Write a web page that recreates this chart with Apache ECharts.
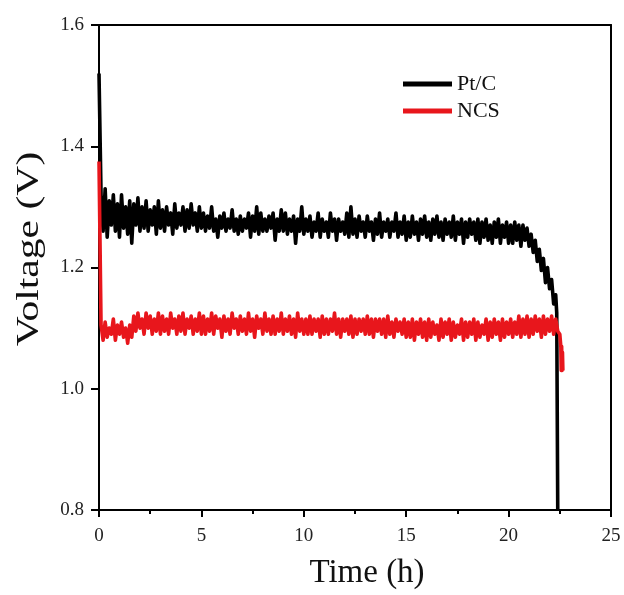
<!DOCTYPE html>
<html><head><meta charset="utf-8">
<script src="https://cdn.jsdelivr.net/npm/echarts@6/dist/echarts.min.js"></script>
<style>html,body{margin:0;padding:0;background:#fff}#c{width:624px;height:595px}</style>
</head><body><div id="c"></div>
<script>
// ---- data ----
const xTicks = [0, 5, 10, 15, 20, 25];
const yTicks = [0.8, 1.0, 1.2, 1.4, 1.6];
const seriesNames = ['Pt/C', 'NCS'];
const xTitle = 'Time (h)';
const yTitle = 'Voltage (V)';

// sampled time (h)
const timeGrid = [
0.1,0.2,0.3,0.4,0.5,0.6,0.7,0.8,0.9,1.0,
1.1,1.2,1.3,1.4,1.5,1.6,1.7,1.8,1.9,2.0,
2.1,2.2,2.3,2.4,2.5,2.6,2.7,2.8,2.9,3.0,
3.1,3.2,3.3,3.4,3.5,3.6,3.7,3.8,3.9,4.0,
4.1,4.2,4.3,4.4,4.5,4.6,4.7,4.8,4.9,5.0,
5.1,5.2,5.3,5.4,5.5,5.6,5.7,5.8,5.9,6.0,
6.1,6.2,6.3,6.4,6.5,6.6,6.7,6.8,6.9,7.0,
7.1,7.2,7.3,7.4,7.5,7.6,7.7,7.8,7.9,8.0,
8.1,8.2,8.3,8.4,8.5,8.6,8.7,8.8,8.9,9.0,
9.1,9.2,9.3,9.4,9.5,9.6,9.7,9.8,9.9,10.0,
10.1,10.2,10.3,10.4,10.5,10.6,10.7,10.8,10.9,11.0,
11.1,11.2,11.3,11.4,11.5,11.6,11.7,11.8,11.9,12.0,
12.1,12.2,12.3,12.4,12.5,12.6,12.7,12.8,12.9,13.0,
13.1,13.2,13.3,13.4,13.5,13.6,13.7,13.8,13.9,14.0,
14.1,14.2,14.3,14.4,14.5,14.6,14.7,14.8,14.9,15.0,
15.1,15.2,15.3,15.4,15.5,15.6,15.7,15.8,15.9,16.0,
16.1,16.2,16.3,16.4,16.5,16.6,16.7,16.8,16.9,17.0,
17.1,17.2,17.3,17.4,17.5,17.6,17.7,17.8,17.9,18.0,
18.1,18.2,18.3,18.4,18.5,18.6,18.7,18.8,18.9,19.0,
19.1,19.2,19.3,19.4,19.5,19.6,19.7,19.8,19.9,20.0,
20.1,20.2,20.3,20.4,20.5,20.6,20.7,20.8,20.9,21.0,
21.1,21.2,21.3,21.4,21.5,21.6,21.7,21.8,21.9,22.0,
22.1,22.2,22.3,22.4,22.5
];

// Pt/C voltage (V)
const ptcStartTime = [0];
const ptcStartV = [1.52];
const ptcV = [
1.32,1.26,1.33,1.25,1.31,1.27,1.32,1.26,1.305,1.25,
1.32,1.265,1.30,1.255,1.31,1.24,1.305,1.27,1.315,1.26,
1.30,1.265,1.31,1.26,1.295,1.27,1.30,1.255,1.31,1.265,
1.295,1.26,1.30,1.27,1.29,1.255,1.305,1.265,1.29,1.27,
1.30,1.26,1.295,1.265,1.305,1.27,1.29,1.26,1.30,1.265,
1.29,1.26,1.285,1.265,1.30,1.26,1.28,1.25,1.285,1.265,
1.29,1.26,1.28,1.265,1.295,1.26,1.28,1.255,1.285,1.26,
1.28,1.265,1.29,1.25,1.285,1.26,1.30,1.255,1.29,1.26,
1.28,1.26,1.285,1.265,1.29,1.245,1.28,1.26,1.295,1.26,
1.29,1.255,1.28,1.26,1.285,1.24,1.28,1.26,1.30,1.255,
1.28,1.26,1.285,1.25,1.275,1.26,1.29,1.25,1.28,1.26,
1.275,1.25,1.29,1.26,1.28,1.245,1.28,1.26,1.275,1.255,
1.29,1.25,1.30,1.255,1.28,1.25,1.285,1.26,1.275,1.25,
1.285,1.26,1.275,1.245,1.28,1.255,1.29,1.25,1.275,1.26,
1.28,1.25,1.275,1.26,1.29,1.25,1.275,1.255,1.285,1.245,
1.275,1.25,1.285,1.255,1.275,1.245,1.28,1.255,1.285,1.25,
1.275,1.245,1.28,1.255,1.285,1.25,1.275,1.245,1.28,1.255,
1.275,1.25,1.285,1.245,1.275,1.255,1.28,1.24,1.275,1.25,
1.28,1.255,1.275,1.245,1.28,1.24,1.275,1.25,1.28,1.245,
1.27,1.24,1.275,1.25,1.28,1.24,1.27,1.25,1.275,1.24,
1.27,1.24,1.275,1.245,1.27,1.235,1.27,1.245,1.265,1.235,
1.255,1.225,1.245,1.21,1.23,1.195,1.215,1.175,1.20,1.165,
1.18,1.14,1.155
];
const ptcEndTime = [22.35, 22.4];
const ptcEndV = [1.125, 0.8];

// NCS voltage (V)
const ncsStartTime = [0];
const ncsStartV = [1.375];
const ncsV = [
1.105,1.08,1.11,1.085,1.10,1.09,1.115,1.08,1.105,1.09,
1.11,1.085,1.10,1.075,1.105,1.085,1.12,1.095,1.125,1.10,
1.115,1.09,1.125,1.10,1.12,1.09,1.115,1.095,1.125,1.09,
1.12,1.095,1.115,1.09,1.125,1.10,1.115,1.09,1.12,1.095,
1.125,1.09,1.115,1.10,1.12,1.09,1.115,1.095,1.125,1.09,
1.12,1.09,1.115,1.095,1.125,1.09,1.12,1.10,1.115,1.085,
1.12,1.095,1.115,1.09,1.125,1.10,1.115,1.09,1.12,1.095,
1.115,1.09,1.125,1.095,1.115,1.085,1.12,1.10,1.115,1.09,
1.125,1.095,1.115,1.09,1.12,1.09,1.115,1.095,1.125,1.09,
1.115,1.095,1.12,1.09,1.115,1.085,1.125,1.095,1.115,1.09,
1.115,1.09,1.12,1.09,1.115,1.095,1.115,1.085,1.12,1.09,
1.115,1.09,1.115,1.095,1.125,1.09,1.115,1.085,1.115,1.095,
1.115,1.09,1.12,1.085,1.115,1.09,1.115,1.095,1.115,1.09,
1.12,1.09,1.115,1.085,1.115,1.095,1.115,1.09,1.115,1.085,
1.12,1.09,1.11,1.085,1.115,1.095,1.11,1.09,1.115,1.085,
1.11,1.085,1.115,1.08,1.11,1.09,1.115,1.085,1.11,1.08,
1.115,1.085,1.11,1.09,1.105,1.08,1.115,1.085,1.11,1.09,
1.115,1.08,1.11,1.085,1.105,1.09,1.115,1.08,1.11,1.085,
1.11,1.09,1.115,1.08,1.11,1.085,1.105,1.09,1.115,1.08,
1.11,1.085,1.115,1.09,1.11,1.08,1.115,1.085,1.11,1.09,
1.115,1.085,1.11,1.09,1.12,1.085,1.115,1.09,1.12,1.085,
1.115,1.09,1.12,1.095,1.115,1.085,1.12,1.09,1.115,1.095,
1.12,1.09,1.115,1.095,1.09
];
const ncsEndTime = [22.55, 22.57, 22.59, 22.61, 22.63, 22.65];
const ncsEndV = [1.07, 1.03, 1.07, 1.03, 1.06, 1.03];

// ---- build ----
function pairs(ts, vs) { const out = []; for (let i = 0; i < vs.length; i++) out.push([ts[i], vs[i]]); return out; }
const ptcData = [].concat(pairs(ptcStartTime, ptcStartV), pairs(timeGrid, ptcV), pairs(ptcEndTime, ptcEndV));
const ncsData = [].concat(pairs(ncsStartTime, ncsStartV), pairs(timeGrid, ncsV), pairs(ncsEndTime, ncsEndV));

const FONT = 'Liberation Serif';
const axisLineStyle = { color: '#000', width: 2 };

const chart = echarts.init(document.getElementById('c'), null, { renderer: 'canvas' });
chart.setOption({
  animation: false,
  backgroundColor: '#fff',
  grid: { left: 99, right: 13, top: 25, bottom: 85, containLabel: false },
  legend: {
    orient: 'vertical', left: 403, top: 73, padding: 0, itemWidth: 49, itemHeight: 5, itemGap: 5,
    textStyle: { fontFamily: FONT, fontSize: 22, color: '#111' },
    data: [{ name: seriesNames[0], icon: 'rect' }, { name: seriesNames[1], icon: 'rect' }]
  },
  graphic: [{
    type: 'text', x: 30, y: 249, rotation: Math.PI / 2, scaleX: 1.3, scaleY: 1,
    style: { text: yTitle, font: '32px "Liberation Serif"', fill: '#111',
      align: 'center', verticalAlign: 'middle' }
  }],
  xAxis: [{
    type: 'value', min: xTicks[0], max: xTicks[xTicks.length - 1], interval: 5,
    name: xTitle, nameLocation: 'middle', nameGap: 47,
    nameTextStyle: { fontFamily: FONT, fontSize: 33, color: '#111', padding: [0, 0, 0, 24] },
    axisLine: { show: true, onZero: false, lineStyle: axisLineStyle },
    axisTick: { show: true, inside: false, length: 7, lineStyle: { color: '#000', width: 2 } },
    minorTick: { show: true, splitNumber: 2, length: 4, lineStyle: { color: '#000', width: 2 } },
    splitLine: { show: false },
    axisLabel: { fontFamily: FONT, fontSize: 19, color: '#222', margin: 17 }
  }, {
    type: 'value', position: 'top', min: xTicks[0], max: xTicks[xTicks.length - 1],
    axisLine: { show: true, onZero: false, lineStyle: axisLineStyle },
    axisTick: { show: false }, axisLabel: { show: false }, splitLine: { show: false }
  }],
  yAxis: [{
    type: 'value', min: yTicks[0], max: yTicks[yTicks.length - 1], interval: 0.2,
    axisLine: { show: true, onZero: false, lineStyle: axisLineStyle },
    axisTick: { show: true, inside: false, length: 8, lineStyle: { color: '#000', width: 2 } },
    splitLine: { show: false },
    axisLabel: { fontFamily: FONT, fontSize: 19, color: '#222', margin: 15,
      formatter: v => v.toFixed(1) }
  }, {
    type: 'value', position: 'right', min: yTicks[0], max: yTicks[yTicks.length - 1],
    axisLine: { show: true, onZero: false, lineStyle: axisLineStyle },
    axisTick: { show: false }, axisLabel: { show: false }, splitLine: { show: false }
  }],
  series: [{
    name: seriesNames[0], type: 'line', data: ptcData, showSymbol: false, symbol: 'none',
    clip: true, color: '#000', lineStyle: { color: '#000', width: 3.6, join: 'round' }, z: 2
  }, {
    name: seriesNames[1], type: 'line', data: ncsData, showSymbol: false, symbol: 'none',
    clip: true, color: '#e8161c', lineStyle: { color: '#e8161c', width: 3.6, join: 'round' }, z: 3
  }]
});
</script>
</body></html>
